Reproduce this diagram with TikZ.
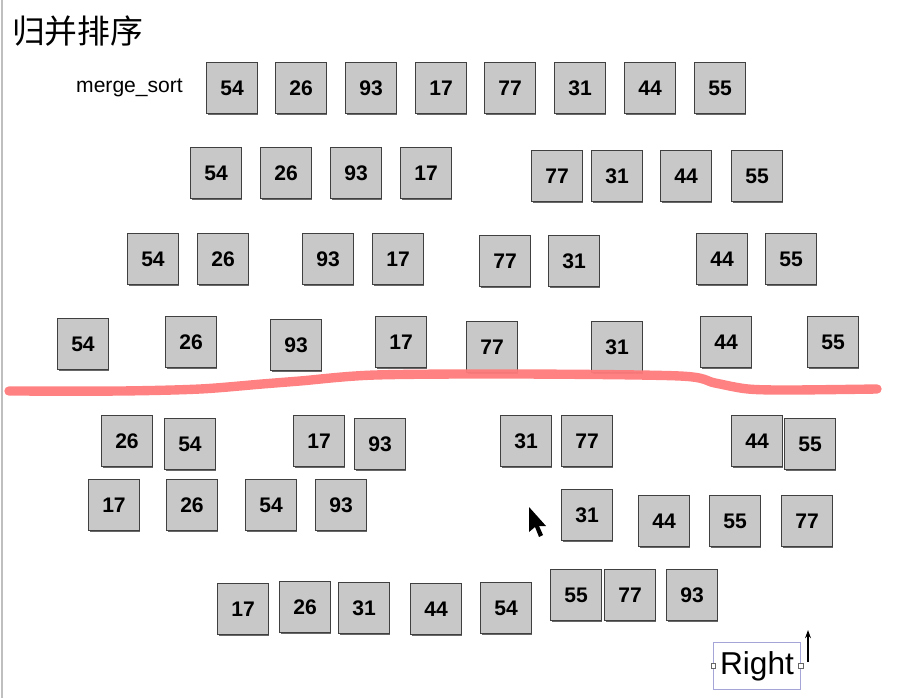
\documentclass[tikz,border=0pt]{standalone}
\usepackage{fontspec}
\setmainfont{Liberation Sans}
\newfontfamily\cjk{Noto Sans CJK SC}
\usetikzlibrary{shadows,arrows.meta}
\definecolor{cellgray}{RGB}{200,200,200}
\definecolor{penred}{RGB}{255,122,122}
\definecolor{selblue}{RGB}{165,165,215}

\begin{document}
\begin{tikzpicture}[x=0.03cm,y=-0.03cm,
   cell/.style={draw=black!75,fill=cellgray,line width=1pt,minimum size=1.52cm,inner sep=0pt,
     font=\fontsize{18}{18}\selectfont\bfseries,
     drop shadow={shadow xshift=0.8pt,shadow yshift=-1.7pt,fill=black!70,opacity=0.85}},
   handle/.style={draw=black!60,fill=white,minimum size=4pt,inner sep=0pt}]
 \useasboundingbox (0,0) rectangle (905,698);
 \draw[black!25,line width=1pt] (2,0) -- (2,698);
 \node[anchor=west,font=\cjk\fontsize{28}{28}\selectfont] (title) at (8,31) {归并排序};
 \node[anchor=east,font=\fontsize{18}{18}\selectfont] (label) at (187,88) {merge\_sort};

 % split
 \foreach \x/\y/\v [count=\i] in {232/88/54,301/88/26,371/88/93,441/88/17,510/88/77,580/88/31,650/88/44,720/88/55}
   \node[cell] (r1-\i) at (\x,\y) {\v};
 \foreach \x/\y/\v [count=\i] in {216/173/54,286/173/26,356/173/93,426/173/17,557/176/77,617/176/31,686/176/44,757/176/55}
   \node[cell] (r2-\i) at (\x,\y) {\v};
 \foreach \x/\y/\v [count=\i] in {153/259/54,223/259/26,328/259/93,398/259/17,505/261/77,574/261/31,722/259/44,791/259/55}
   \node[cell] (r3-\i) at (\x,\y) {\v};
 \foreach \x/\y/\v [count=\i] in {83/344/54,191/342/26,296/345/93,401/342/17,492/347/77,617/347/31,726/342/44,833/342/55}
   \node[cell] (r4-\i) at (\x,\y) {\v};

 % merge
 \foreach \x/\y/\v [count=\i] in {127/441/26,190/444/54,319/441/17,380/444/93,526/441/31,587/441/77,757/441/44,810/444/55}
   \node[cell] (r5-\i) at (\x,\y) {\v};
 \foreach \x/\y/\v [count=\i] in {114/505/17,192/505/26,271/505/54,341/505/93,587/515/31,664/521/44,735/521/55,807/521/77}
   \node[cell] (r6-\i) at (\x,\y) {\v};
 \foreach \x/\y/\v [count=\i] in {243/609/17,305/607/26,364/608/31,436/609/44,506/608/54,576/595/55,630/595/77,692/595/93}
   \node[cell] (r7-\i) at (\x,\y) {\v};

 \draw[penred,line width=8pt,line cap=round,line join=round,opacity=0.95]
   plot[smooth,tension=0.5] coordinates {(9,391) (120,391) (200,389) (262,384) (300,381) (375,375)
     (520,374) (680,376) (715,383) (748,389) (790,390) (877,389)};

 % pointer
 \fill[black] (529,507) -- (529,532) -- (535,527) -- (539,537) -- (543,535) -- (539,526) -- (546,526) -- cycle;

 \node[draw=selblue,line width=0.6pt,minimum width=2.61cm,minimum height=1.41cm,inner sep=0pt,
   font=\fontsize{27}{27}\selectfont] (right) at (757,666) {Right};
 \node[handle] (hw) at (right.west) {};
 \node[handle] (he) at (right.east) {};
 \coordinate (upfoot) at (808,662);
 \coordinate (uptop) at (808,630);
 \draw[-{Stealth[length=7pt,width=5pt]},line width=1pt] (upfoot) -- (uptop);
\end{tikzpicture}
\end{document}
